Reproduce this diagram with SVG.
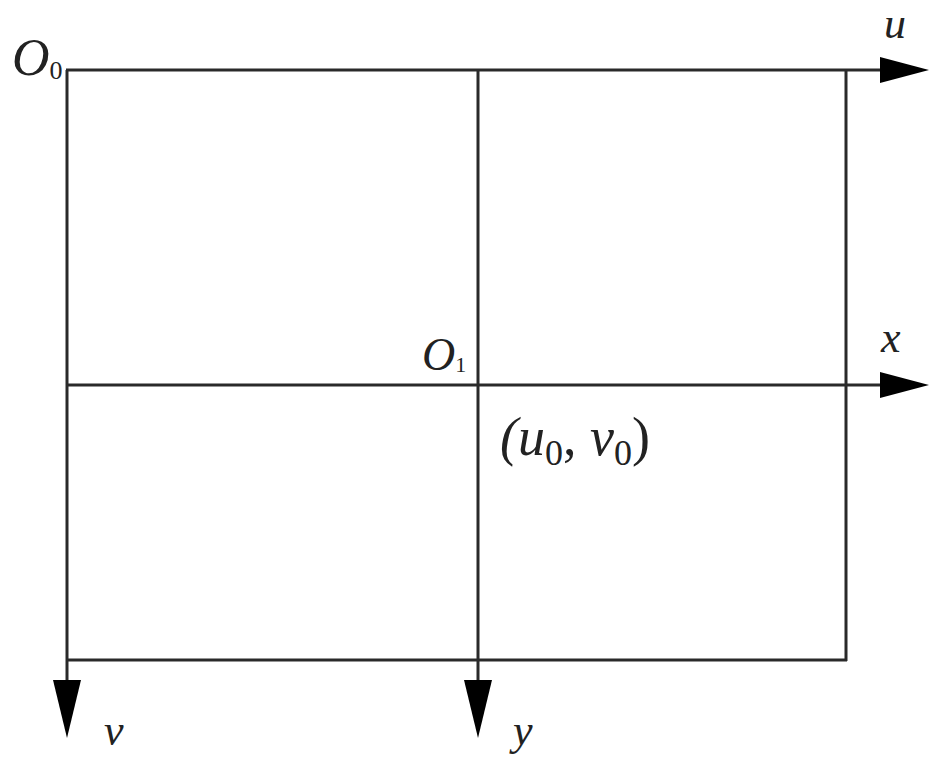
<svg xmlns="http://www.w3.org/2000/svg" width="932" height="757" viewBox="0 0 932 757">
<defs>
<style>
.ax{stroke:#2a2a2a;stroke-width:3;fill:none}
.lb{font-family:"Liberation Serif","Times New Roman",serif;font-style:italic;fill:#222}
.up{font-style:normal}
.ah{fill:#000}
</style>
</defs>
<rect width="932" height="757" fill="#fff"/>
<g id="connectors">
<line class="ax" x1="66" y1="70" x2="884" y2="70"/>
<line class="ax" x1="66" y1="385" x2="884" y2="385"/>
<line class="ax" x1="67" y1="70" x2="67" y2="684"/>
<line class="ax" x1="478" y1="70" x2="478" y2="684"/>
<line class="ax" x1="846" y1="70" x2="846" y2="661"/>
<line class="ax" x1="66" y1="660" x2="847" y2="660"/>
<polygon class="ah" points="880,57 929,70 880,83"/>
<polygon class="ah" points="880,372 929,385 880,398"/>
<polygon class="ah" points="53,680 67,738 81,680"/>
<polygon class="ah" points="464,680 478,738 492,680"/>
</g>
<g id="O0"><text class="lb" x="12" y="75" font-size="52">O<tspan class="up" font-size="26" dy="4">0</tspan></text></g>
<g id="u"><text class="lb" x="884" y="38" font-size="44">u</text></g>
<g id="O1"><text class="lb" x="422" y="370" font-size="46">O<tspan class="up" font-size="22" dy="2">1</tspan></text></g>
<g id="x"><text class="lb" x="881" y="352" font-size="44">x</text></g>
<g id="uv"><text class="lb" x="500" y="455" font-size="54">(u<tspan class="up" font-size="36" dy="10">0</tspan><tspan class="up" dy="-10">, </tspan>v<tspan class="up" font-size="36" dy="10">0</tspan><tspan class="up" dy="-10">)</tspan></text></g>
<g id="v"><text class="lb" x="104" y="745" font-size="44">v</text></g>
<g id="y"><text class="lb" x="513" y="745" font-size="44">y</text></g>
</svg>
